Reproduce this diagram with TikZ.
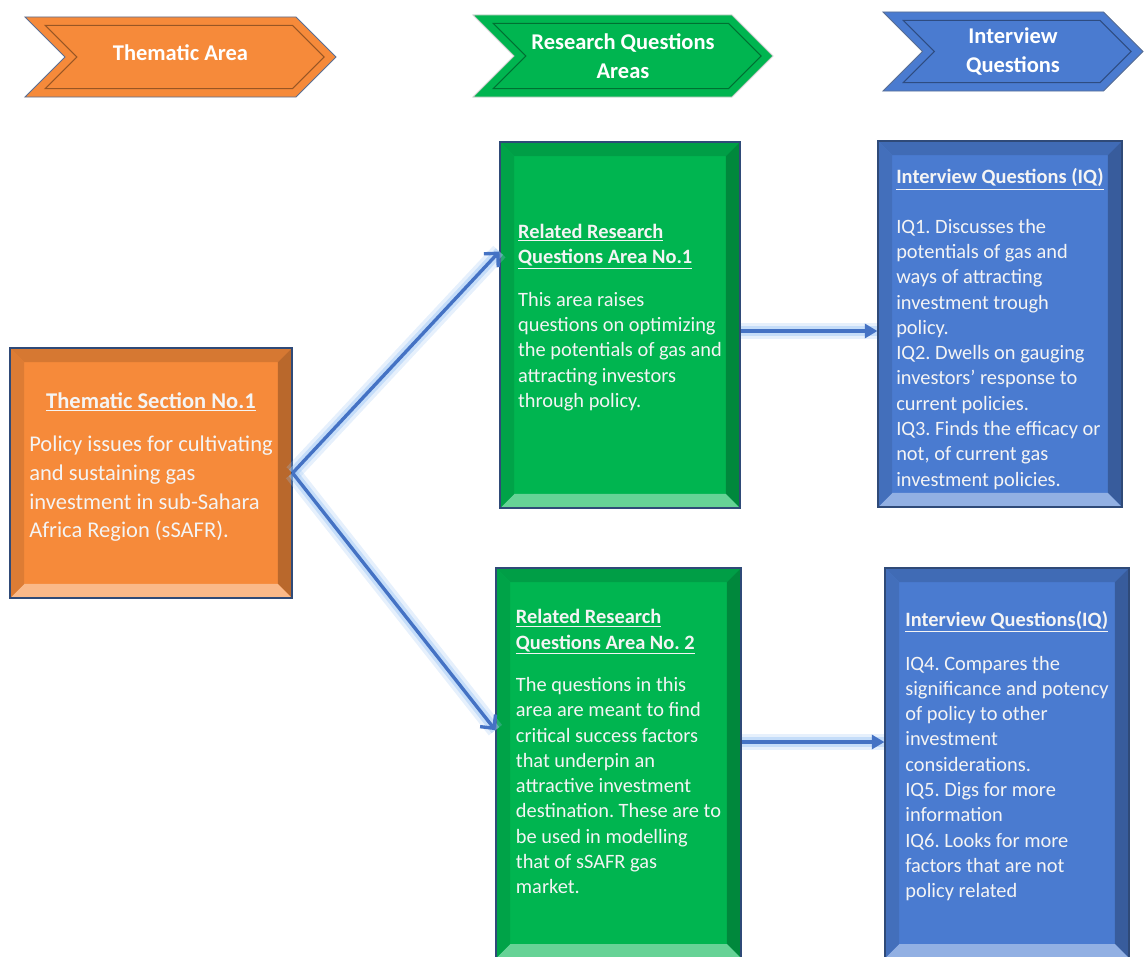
\documentclass[tikz,border=0pt]{standalone}
\usepackage{fontspec}
\setmainfont{Carlito}
\usepackage{tikz}
\usetikzlibrary{arrows.meta,positioning,shapes.symbols,calc}
\frenchspacing
\definecolor{thmorange}{HTML}{F68A3A}
\definecolor{rqgreen}{HTML}{00B550}
\definecolor{iqblue}{HTML}{4A7BD0}
\definecolor{arrowblue}{HTML}{4472C4}
\definecolor{glowblue}{HTML}{9CC5F4}
\definecolor{boxline}{HTML}{2F4A78}
\definecolor{bodywhite}{HTML}{F4F4F4}
\newcommand{\hdrfont}{\fontsize{16}{20.5}\selectfont\bfseries}
\newcommand{\boxfont}{\fontsize{14.5}{18}\selectfont}
\newcommand{\bigboxfont}{\fontsize{16}{20.5}\selectfont}

\begin{document}
\begin{tikzpicture}[
  x=0.025cm, y=-0.025cm,
  hdr/.style={signal, signal to=east, signal from=west, fill=#1, draw=boxline!80, line width=0.6pt,
    text=white, align=center, font=\hdrfont, inner sep=0pt,
    path picture={
      \draw[#1!62!black, line width=0.8pt] let \p1=(path picture bounding box.north west),
        \p2=(path picture bounding box.south east), \n1={(\y1-\y2)/2} in
        (\x1+14.5pt,\y1-6pt) -- (\x2-\n1-2.5pt,\y1-6pt) -- (\x2-8.5pt,\y1-\n1)
        -- (\x2-\n1-2.5pt,\y2+6pt) -- (\x1+14.5pt,\y2+6pt) -- (\x1+\n1+8.5pt,\y1-\n1) -- cycle;
    }},
  box/.style={draw=boxline, line width=0.8pt, fill=#1, text=bodywhite, align=left,
    path picture={
      \path (path picture bounding box.north west) coordinate (pnw)
            (path picture bounding box.south east) coordinate (pse);
      \fill[#1!87!black] let \p1=(pnw), \p2=(pse) in
        (\x1,\y1) -- (\x2,\y1) -- (\x2-10pt,\y1-10pt) -- (\x1+10pt,\y1-10pt) -- cycle;
      \fill[#1!75!black] let \p1=(pnw), \p2=(pse) in
        (\x2,\y1) -- (\x2,\y2) -- (\x2-10pt,\y2+10pt) -- (\x2-10pt,\y1-10pt) -- cycle;
      \fill[#1!60!white] let \p1=(pnw), \p2=(pse) in
        (\x1,\y2) -- (\x2,\y2) -- (\x2-10pt,\y2+10pt) -- (\x1+10pt,\y2+10pt) -- cycle;
      \fill[#1!90!black] let \p1=(pnw), \p2=(pse) in
        (\x1,\y1) -- (\x1,\y2) -- (\x1+10pt,\y2+10pt) -- (\x1+10pt,\y1-10pt) -- cycle;
    }},
  glow/.style={line width=12pt, glowblue, opacity=0.25},
  glowin/.style={line width=7pt, glowblue, opacity=0.45},
  arr/.style={line width=2.4pt, arrowblue},
  barb/.style={arr, -{Straight Barb[length=7pt, width=14pt]}},
  tri/.style={arr, -{Triangle[length=9pt, width=10pt]}}
]
\useasboundingbox (0,0) rectangle (1144,956);

% column headers
\node[hdr=thmorange, minimum width=7.775cm, minimum height=2cm] (thematic) at (180.5,57) {\raisebox{6pt}{Thematic Area}};
\node[hdr=rqgreen, draw=white!80!black, minimum width=7.5cm, minimum height=2.05cm] (rqhead) at (623,56) {Research Questions\\Areas};
\node[hdr=iqblue, minimum width=6.5cm, minimum height=1.975cm] (iqhead) at (1013,51.5) {Interview\\Questions};

% boxes
\node[box=thmorange, align=center, minimum width=7.05cm, minimum height=6.25cm, font=\bigboxfont] (section) at (151,473)
  {\textbf{\underline{Thematic Section No.1}}\\[10pt]\begin{tabular}[t]{@{}l@{}}Policy issues for cultivating\\and sustaining gas\\investment in sub-Sahara\\Africa Region (sSAFR).\rule[-11pt]{0pt}{0pt}\end{tabular}};
\node[box=rqgreen, minimum width=6cm, minimum height=9.15cm, font=\boxfont] (area1) at (620,325)
  {\textbf{\underline{Related Research}}\\\textbf{\underline{Questions Area No.1}}\\[12pt]This area raises\\questions on optimizing\\the potentials of gas and\\attracting investors\\through policy.\rule[-13pt]{0pt}{0pt}};
\node[box=iqblue, minimum width=6.1cm, minimum height=9.15cm, font=\boxfont] (quest1) at (1000,324)
  {\rule{0pt}{18pt}\textbf{\underline{Interview Questions (IQ)}}\\[17pt]IQ1. Discusses the\\potentials of gas and\\ways of attracting\\investment trough\\policy.\\IQ2. Dwells on gauging\\investors' response to\\current policies.\\IQ3. Finds the efficacy or\\not, of current gas\\investment policies.};
\node[box=rqgreen, minimum width=6.125cm, minimum height=9.75cm, font=\boxfont] (area2) at (618.5,763)
  {\textbf{\underline{Related Research}}\\\textbf{\underline{Questions Area No. 2}}\\[12pt]The questions in this\\area are meant to find\\critical success factors\\that underpin an\\attractive investment\\destination. These are to\\be used in modelling\\that of sSAFR gas\\market.\rule[-16pt]{0pt}{0pt}};
\node[box=iqblue, minimum width=6.1cm, minimum height=9.75cm, font=\boxfont] (quest2) at (1007,763)
  {\textbf{\underline{Interview Questions(IQ)}}\\[13pt]IQ4. Compares the\\significance and potency\\of policy to other\\investment\\considerations.\\IQ5. Digs for more\\information\\IQ6. Looks for more\\factors that are not\\policy related\rule[-12pt]{0pt}{0pt}};

% arrows
\coordinate (upend) at ($(area1.north west)!0.3!(area1.south west)$);
\coordinate (downend) at ($(area2.north west)!0.416!(area2.south west)$);
\coordinate (h1) at ($(area1.east)+(0,6)$);
\coordinate (h2) at ($(area2.east)+(0,-21)$);

\foreach \s in {glow,glowin} {
  \draw[\s] (section.east) -- (upend);
  \draw[\s] (section.east) -- (downend);
  \draw[\s] (h1) -- (h1 -| quest1.west);
  \draw[\s] (h2) -- (h2 -| quest2.west);
}
\draw[barb] (section.east) -- (upend);
\draw[barb] (section.east) -- (downend);
\draw[tri] (h1) -- (h1 -| quest1.west);
\draw[tri] (h2) -- (h2 -| quest2.west);
\end{tikzpicture}
\end{document}
